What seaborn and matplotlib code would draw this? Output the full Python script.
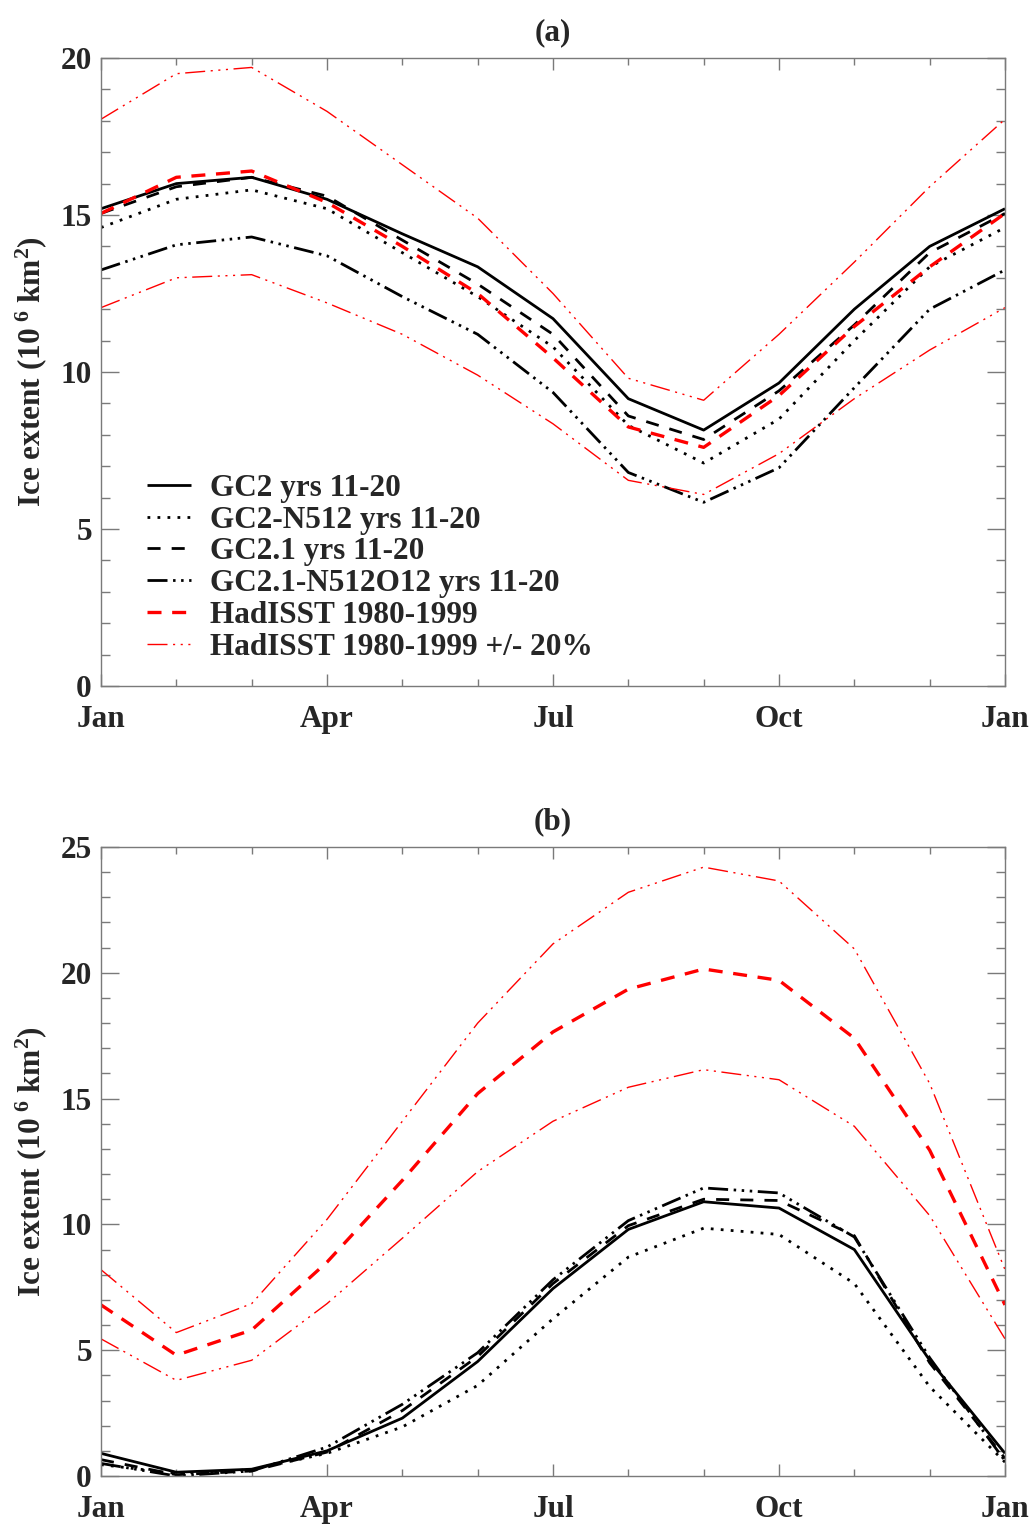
import numpy as np
import pandas as pd
import matplotlib
matplotlib.use("Agg")
import matplotlib.pyplot as plt
from matplotlib.ticker import MultipleLocator, FixedLocator
import seaborn as sns

# ---------------- data ----------------
month_idx = list(range(13))
major_pos = [0, 3, 6, 9, 12]
major_labels = ["Jan", "Apr", "Jul", "Oct", "Jan"]

series_names = ["GC2 yrs 11-20", "GC2-N512 yrs 11-20", "GC2.1 yrs 11-20",
                "GC2.1-N512O12 yrs 11-20", "HadISST 1980-1999",
                "HadISST 1980-1999 +/- 20%"]

# panel (a)
a_gc2 = [15.2, 16.0, 16.2, 15.5, 14.4, 13.35, 11.7, 9.15, 8.15, 9.65, 12.0, 14.0, 15.2]
a_gc2_n512 = [14.6, 15.5, 15.8, 15.2, 13.8, 12.4, 10.8, 8.3, 7.1, 8.5, 11.0, 13.35, 14.6]
a_gc21 = [15.05, 15.9, 16.2, 15.6, 14.2, 12.8, 11.2, 8.6, 7.85, 9.4, 11.5, 13.8, 15.05]
a_gc21_n512o12 = [13.25, 14.05, 14.3, 13.7, 12.4, 11.2, 9.35, 6.8, 5.85, 6.95, 9.5, 12.0, 13.25]
a_had = [15.05, 16.2, 16.4, 15.4, 14.0, 12.5, 10.45, 8.25, 7.6, 9.25, 11.45, 13.35, 15.05]
a_had_hi = [18.05, 19.5, 19.7, 18.3, 16.6, 14.9, 12.5, 9.8, 9.1, 11.2, 13.5, 15.9, 18.05]
a_had_lo = [12.05, 13.0, 13.1, 12.2, 11.2, 9.9, 8.35, 6.55, 6.1, 7.4, 9.15, 10.7, 12.05]

# panel (b)
b_gc2 = [0.9, 0.15, 0.27, 1.0, 2.3, 4.55, 7.45, 9.8, 10.9, 10.65, 9.0, 4.6, 0.9]
b_gc2_n512 = [0.45, 0.1, 0.25, 0.9, 1.95, 3.6, 6.25, 8.7, 9.85, 9.6, 7.65, 3.55, 0.55]
b_gc21 = [0.65, 0.05, 0.2, 0.95, 2.6, 4.75, 7.65, 9.95, 11.0, 10.95, 9.55, 4.5, 0.7]
b_gc21_n512o12 = [0.5, 0.0, 0.2, 1.15, 2.85, 4.9, 7.8, 10.15, 11.45, 11.25, 9.5, 4.7, 0.6]
b_had = [6.8, 4.8, 5.8, 8.5, 11.75, 15.2, 17.65, 19.35, 20.15, 19.7, 17.4, 12.95, 6.8]
b_had_hi = [8.2, 5.7, 6.85, 10.2, 14.1, 18.0, 21.15, 23.2, 24.2, 23.65, 20.95, 15.6, 8.2]
b_had_lo = [5.45, 3.8, 4.6, 6.85, 9.45, 12.1, 14.1, 15.45, 16.15, 15.75, 13.9, 10.35, 5.45]

# ---------------- style ----------------
sns.set_style("ticks")
plt.rcParams["font.family"] = ["Liberation Serif", "DejaVu Serif"]
plt.rcParams["font.weight"] = "bold"
plt.rcParams["mathtext.fontset"] = "custom"
plt.rcParams["mathtext.rm"] = "Liberation Serif:bold"
plt.rcParams["mathtext.it"] = "Liberation Serif:bold"
plt.rcParams["mathtext.bf"] = "Liberation Serif:bold"

FS = 22.5
GRAY = "#7a7a7a"

styles = {
    "GC2 yrs 11-20": dict(color="black", lw=2.0, ls="-"),
    "GC2-N512 yrs 11-20": dict(color="black", lw=2.0, ls=(0, (1, 2.6))),
    "GC2.1 yrs 11-20": dict(color="black", lw=2.0, ls=(0, (4.7, 4.0))),
    "GC2.1-N512O12 yrs 11-20": dict(color="black", lw=2.0,
                                    ls=(0, (7.2, 2, 0.9, 2, 0.9, 2, 0.9, 2))),
    "HadISST 1980-1999": dict(color="red", lw=2.4, ls=(0, (4.2, 3.2))),
    "HadISST 1980-1999 +/- 20%": dict(color="red", lw=1.0,
                                      ls=(0, (14.4, 4, 1.5, 4, 1.5, 4, 1.5, 4))),
}


def build_df(gc2, gc2n, gc21, gc21n, had, hi, lo):
    rows = []
    for name, vals in [(series_names[0], gc2), (series_names[1], gc2n),
                       (series_names[2], gc21), (series_names[3], gc21n),
                       (series_names[4], had), (series_names[5] + " hi", hi),
                       (series_names[5] + " lo", lo)]:
        for m, v in zip(month_idx, vals):
            rows.append({"month": m, "extent": v, "series": name})
    return pd.DataFrame(rows)


df_a = build_df(a_gc2, a_gc2_n512, a_gc21, a_gc21_n512o12, a_had, a_had_hi, a_had_lo)
df_b = build_df(b_gc2, b_gc2_n512, b_gc21, b_gc21_n512o12, b_had, b_had_hi, b_had_lo)

W, H = 1036, 1524
fig = plt.figure(figsize=(W / 100, H / 100), dpi=100)


def px_axes(left, top, right, bottom):
    return fig.add_axes([left / W, 1 - bottom / H, (right - left) / W, (bottom - top) / H])


ax_a = px_axes(101, 58, 1005, 686)
ax_b = px_axes(101, 847, 1005, 1476)


def draw(ax, df, ymax, title, legend):
    handles = {}
    for key in df["series"].unique():
        base = key.replace(" hi", "").replace(" lo", "")
        st = styles[base]
        sub = df[df["series"] == key]
        sns.lineplot(data=sub, x="month", y="extent", ax=ax, color=st["color"],
                     linewidth=st["lw"], linestyle=st["ls"], errorbar=None,
                     estimator=None, sort=False, legend=False)
        line = ax.get_lines()[-1]
        line.set_solid_capstyle("butt")
        if base not in handles:
            handles[base] = line
    ax.set_xlim(0, 12)
    ax.set_ylim(0, ymax)
    ax.xaxis.set_major_locator(FixedLocator(major_pos))
    ax.set_xticklabels(major_labels)
    ax.xaxis.set_minor_locator(MultipleLocator(1))
    ax.yaxis.set_major_locator(MultipleLocator(5))
    ax.yaxis.set_minor_locator(MultipleLocator(1))
    ax.tick_params(which="both", direction="in", top=True, right=True,
                   color=GRAY, width=1.0, labelsize=FS)
    ax.tick_params(axis="x", which="major", length=8.6, pad=14)
    ax.tick_params(axis="x", which="minor", length=5)
    ax.tick_params(axis="y", which="major", length=13, pad=6.5)
    ax.tick_params(axis="y", which="minor", length=6.5)
    for lab in ax.get_xticklabels() + ax.get_yticklabels():
        lab.set_fontweight("bold")
    for sp in ax.spines.values():
        sp.set_color(GRAY)
        sp.set_linewidth(1.0)
    ax.set_xlabel("")
    ax.set_ylabel(r"Ice extent (10$^{\ 6}$ km$^{2}$)", fontsize=FS, fontweight="bold")
    ax.yaxis.set_label_coords(-0.0575, 0.5)
    ax.set_title(title, fontsize=FS, fontweight="bold", pad=12.5)
    if legend:
        ax.legend([handles[n] for n in series_names], series_names,
                  loc="upper left", bbox_to_anchor=(0.051, 0.338),
                  frameon=False, prop={"weight": "bold", "size": FS},
                  handlelength=1.42, handletextpad=0.6, labelspacing=0.09,
                  borderpad=0, borderaxespad=0)


draw(ax_a, df_a, 20, "(a)", True)
draw(ax_b, df_b, 25, "(b)", False)

fig.savefig("out.png", dpi=100)
